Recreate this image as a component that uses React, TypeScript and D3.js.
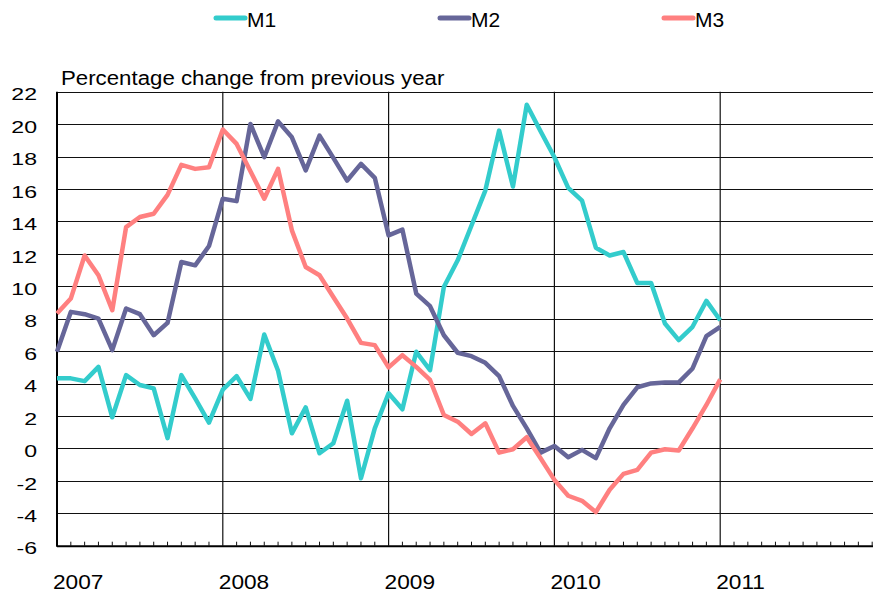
import React from "react";
import * as d3 from "d3";

const seriesNames = ["M1", "M2", "M3"];
const seriesColors = ["#33CCCC", "#666699", "#FF8080"];

// Monthly values, Jan 2007 .. Jan 2011
const m1 = [
  4.32, 4.32, 4.15, 5.03, 1.92, 4.52, 3.91, 3.7, 0.63, 4.52, 3.09, 1.59,
  3.63, 4.46, 3.05, 7.03, 4.79, 0.93, 2.53, -0.3, 0.32, 2.94, -1.84, 1.24,
  3.4, 2.41, 5.96, 4.83, 9.96, 11.6, 13.75, 15.9, 19.6, 16.15, 21.2, 19.56,
  17.96, 16.07, 15.28, 12.38, 11.9, 12.11, 10.2, 10.2, 7.7, 6.68, 7.5, 9.1,
  7.9,
];
const m2 = [
  5.96, 8.42, 8.28, 8.01, 6.06, 8.63, 8.28, 6.98, 7.74, 11.5, 11.29, 12.48,
  15.4, 15.25, 20.01, 17.96, 20.17, 19.19, 17.14, 19.29, 17.92, 16.52, 17.55, 16.69,
  13.14, 13.49, 9.55, 8.77, 6.98, 5.9, 5.69, 5.28, 4.46, 2.62, 1.24, -0.26,
  0.15, -0.54, -0.09, -0.6, 1.24, 2.68, 3.77, 4.01, 4.07, 4.07, 4.93, 6.92,
  7.5,
];
const m3 = [
  8.32, 9.24, 11.9, 10.68, 8.52, 13.65, 14.27, 14.47, 15.64, 17.49, 17.24, 17.34,
  19.67, 18.78, 17.1, 15.4, 17.24, 13.45, 11.19, 10.68, 9.34, 8.01, 6.51, 6.37,
  5.0, 5.75, 5.03, 4.22, 2.06, 1.65, 0.89, 1.55, -0.26, -0.05, 0.69, -0.6,
  -1.94, -2.92, -3.23, -3.93, -2.55, -1.57, -1.32, -0.26, -0.05, -0.13, 1.24, 2.68,
  4.26,
];
const seriesValues = [m1, m2, m3];

const yearLabels = ["2007", "2008", "2009", "2010", "2011"];
const yTicks = [22, 20, 18, 16, 14, 12, 10, 8, 6, 4, 2, 0, -2, -4, -6];
const yAxisTitle = "Percentage change from previous year";

const W = 873;
const H = 594;
const x0 = 57;
const yearW = 165.8;
const yTop = 91.7;
const yBot = 545.7;

export default function App() {
  // x in months since Jan 2007
  const x = d3.scaleLinear().domain([0, 60]).range([x0, x0 + 5 * yearW]);
  const y = d3.scaleLinear().domain([-6, 22]).range([yBot, yTop]);
  const line = d3
    .line<number>()
    .x((_, i) => x(i))
    .y((v) => y(v));

  const monthTicks = d3.range(0, 61).filter((m) => m % 12 !== 0 && x(m) < W);
  const yearLines = [1, 2, 3, 4].map((k) => k * 12);
  const font = "Liberation Sans, Arial, sans-serif";

  const legendX = [216, 440, 664];

  return (
    <svg
      width={W}
      height={H}
      style={{ position: "absolute", left: 0, top: 0, background: "#fff" }}
      fontFamily={font}
    >
      <rect x={0} y={0} width={W} height={H} fill="#fff" />
      {/* horizontal gridlines */}
      {yTicks.map((t) => (
        <line
          key={"h" + t}
          x1={x0}
          x2={W}
          y1={Math.round(y(t)) + 0.5}
          y2={Math.round(y(t)) + 0.5}
          stroke="#111"
          strokeWidth={1.2}
        />
      ))}
      {/* vertical year lines */}
      {yearLines.map((m) => (
        <line
          key={"v" + m}
          x1={x(m)}
          x2={x(m)}
          y1={yTop}
          y2={yBot}
          stroke="#111"
          strokeWidth={1.2}
        />
      ))}
      {/* month ticks */}
      {monthTicks.map((m) => (
        <line
          key={"t" + m}
          x1={x(m)}
          x2={x(m)}
          y1={yBot}
          y2={yBot - 4}
          stroke="#111"
          strokeWidth={1}
        />
      ))}
      {/* axes */}
      <line x1={x0} x2={x0} y1={yTop} y2={yBot + 1} stroke="#000" strokeWidth={2} />
      <line x1={x0} x2={W} y1={yBot + 0.5} y2={yBot + 0.5} stroke="#000" strokeWidth={2} />

      {/* series */}
      {seriesValues.map((vals, i) => (
        <path
          key={seriesNames[i]}
          d={line(vals) || ""}
          fill="none"
          stroke={seriesColors[i]}
          strokeWidth={4.5}
          strokeLinejoin="round"
          strokeLinecap="butt"
        />
      ))}

      {/* y tick labels */}
      {yTicks.map((t) => (
        <text
          key={"yl" + t}
          transform={`translate(37,${y(t) + 8.7}) scale(1.4,1)`}
          textAnchor="end"
          fontSize={16.5}
          fill="#000"
        >
          {t}
        </text>
      ))}

      {/* year labels */}
      {yearLabels.map((lab, k) => (
        <text
          key={lab}
          transform={`translate(${x(k * 12) - 4},589) scale(1.08,1)`}
          fontSize={21}
          fill="#000"
        >
          {lab}
        </text>
      ))}

      {/* axis title */}
      <text transform="translate(61,85) scale(1.06,1)" fontSize={21} fill="#000">
        {yAxisTitle}
      </text>

      {/* legend */}
      {seriesNames.map((n, i) => (
        <g key={"lg" + n}>
          <line
            x1={legendX[i]}
            x2={legendX[i] + 29}
            y1={18}
            y2={18}
            stroke={seriesColors[i]}
            strokeWidth={5}
            strokeLinecap="round"
          />
          <text x={legendX[i] + 31} y={27} fontSize={21} fill="#000">
            {n}
          </text>
        </g>
      ))}
    </svg>
  );
}
